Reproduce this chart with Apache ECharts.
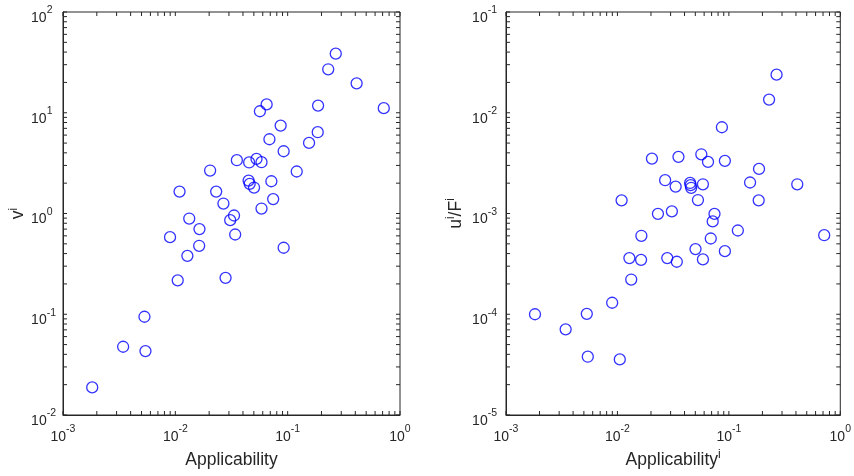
<!DOCTYPE html>
<html>
<head>
<meta charset="utf-8">
<script src="https://cdn.jsdelivr.net/npm/echarts@6/dist/echarts.min.js"></script>
<style>
  html, body { margin: 0; padding: 0; background: #fff; }
  #chart { width: 854px; height: 476px; }
</style>
</head>
<body>
<div id="chart"></div>
<script>
// applicability of each item (shared by both panels)
var applicability = [0.00182, 0.00343, 0.00531, 0.00542, 0.00897, 0.0105, 0.0109, 0.0128, 0.0133, 0.0163,
  0.0164, 0.0204, 0.0231, 0.0268, 0.028, 0.0308, 0.0333, 0.0341, 0.0353, 0.0449,
  0.0454, 0.0459, 0.0502, 0.0528, 0.0566, 0.0585, 0.0585, 0.065, 0.0688, 0.0716,
  0.0743, 0.0866, 0.0921, 0.0921, 0.1204, 0.155, 0.1852, 0.1865, 0.2296, 0.268,
  0.411, 0.717];

// left panel: v^i
var vi = [0.0188, 0.0476, 0.0944, 0.0431, 0.582, 0.217, 1.65, 0.38, 0.891, 0.478,
  0.70, 2.67, 1.65, 1.256, 0.230, 0.859, 0.955, 0.619, 3.38, 2.12,
  3.21, 1.97, 1.81, 3.48, 10.35, 3.23, 1.12, 12.1, 5.46, 2.09,
  1.39, 7.46, 4.15, 0.457, 2.61, 5.02, 6.41, 11.78, 27.0, 38.6,
  19.6, 11.1];

// right panel: u^i / F^i
var uiOverFi = [1.0e-4, 7.08e-5, 1.01e-4, 3.79e-5, 1.30e-4, 3.56e-5, 1.35e-3, 3.61e-4, 2.21e-4, 3.47e-4,
  6.01e-4, 3.51e-3, 9.93e-4, 2.14e-3, 3.61e-4, 1.05e-3, 1.85e-3, 3.32e-4, 3.65e-3, 2.01e-3,
  1.91e-3, 1.80e-3, 4.43e-4, 1.36e-3, 3.87e-3, 1.95e-3, 3.50e-4, 3.25e-3, 5.65e-4, 8.34e-4,
  9.93e-4, 7.18e-3, 3.33e-3, 4.23e-4, 6.78e-4, 2.03e-3, 1.35e-3, 2.77e-3, 1.35e-2, 2.39e-2,
  1.95e-3, 6.09e-4];

// axis limits (decade exponents)
var xRange = [-3, 0];
var leftYRange = [-2, 2];
var rightYRange = [-5, -1];

var AX = "#262626";
var FONT = "Liberation Sans, Arial, Helvetica, sans-serif";

function pairs(xs, ys) {
  var out = [];
  for (var i = 0; i < xs.length; i++) out.push([xs[i], ys[i]]);
  return out;
}

// 1..9 x 10^k ticks, matlab style
function decadeTicks(lo, hi) {
  var out = [];
  for (var k = lo; k < hi; k++) {
    for (var m = 1; m < 10; m++) out.push(m * Math.pow(10, k));
  }
  out.push(Math.pow(10, hi));
  return out;
}

function powLabel(v) {
  var e = Math.round(Math.log10(v));
  return "{b|10}{s|" + e + "}";
}

// y labels: positive exponents get extra room so the "10" parts line up
function powLabelY(v) {
  var e = Math.round(Math.log10(v));
  return "{b|10}" + (e < 0 ? "{s|" + e + "}" : "{p|" + e + "}");
}

var bStyle = { fontSize: 14, fontFamily: FONT, color: AX, lineHeight: 20, verticalAlign: "bottom" };
var sStyle = { fontSize: 10.5, fontFamily: FONT, color: AX, lineHeight: 10, verticalAlign: "top" };
var labelRich = {
  b: bStyle,
  s: sStyle,
  p: Object.assign({}, sStyle, { padding: [0, 3.5, 0, 0] })
};
var nameRich = {
  b: { fontSize: 17.5, fontFamily: FONT, color: AX, lineHeight: 20, verticalAlign: "bottom" },
  s: { fontSize: 12, fontFamily: FONT, color: AX, lineHeight: 12, verticalAlign: "top" }
};

function xAxisFor(idx, name) {
  return {
    type: "log", gridIndex: idx, logBase: 10,
    min: Math.pow(10, xRange[0]), max: Math.pow(10, xRange[1]),
    name: name, nameLocation: "middle", nameGap: 34,
    nameTextStyle: { rich: nameRich },
    axisLine: { show: true, lineStyle: { color: AX, width: 1 } },
    axisTick: { show: false },
    splitLine: { show: false },
    axisLabel: { margin: 9, fontSize: 14, fontFamily: FONT, color: AX, formatter: powLabel, rich: labelRich }
  };
}

function yAxisFor(idx, range, name, gap, margin) {
  return {
    type: "log", gridIndex: idx, logBase: 10,
    min: Math.pow(10, range[0]), max: Math.pow(10, range[1]),
    name: name, nameLocation: "middle", nameGap: gap, nameRotate: 90,
    nameTextStyle: { rich: nameRich },
    axisLine: { show: true, lineStyle: { color: AX, width: 1 } },
    axisTick: { show: false },
    splitLine: { show: false },
    axisLabel: { margin: margin, padding: [6, 0, 0, 0], fontSize: 14, fontFamily: FONT, color: AX, formatter: powLabelY, rich: labelRich }
  };
}

// tick marks on all four sides of a box
function tickSeries(idx, yRange) {
  var xt = decadeTicks(xRange[0], xRange[1]);
  var yt = decadeTicks(yRange[0], yRange[1]);
  var x0 = Math.pow(10, xRange[0]), x1 = Math.pow(10, xRange[1]);
  var y0 = Math.pow(10, yRange[0]), y1 = Math.pow(10, yRange[1]);
  var TL = 4;
  return {
    type: "custom", xAxisIndex: idx, yAxisIndex: idx, silent: true, clip: false, z: 1,
    data: [[x0, y0]],
    renderItem: function (params, api) {
      var kids = [];
      var st = { stroke: AX, lineWidth: 1 };
      xt.forEach(function (v) {
        var b = api.coord([v, y0]), t = api.coord([v, y1]);
        kids.push({ type: "line", shape: { x1: b[0], y1: b[1], x2: b[0], y2: b[1] - TL }, style: st });
        kids.push({ type: "line", shape: { x1: t[0], y1: t[1], x2: t[0], y2: t[1] + TL }, style: st });
      });
      yt.forEach(function (v) {
        var l = api.coord([x0, v]), r = api.coord([x1, v]);
        kids.push({ type: "line", shape: { x1: l[0], y1: l[1], x2: l[0] + TL, y2: l[1] }, style: st });
        kids.push({ type: "line", shape: { x1: r[0], y1: r[1], x2: r[0] - TL, y2: r[1] }, style: st });
      });
      return { type: "group", children: kids };
    }
  };
}

function scatterSeries(idx, ys) {
  return {
    type: "scatter", xAxisIndex: idx, yAxisIndex: idx, z: 3,
    data: pairs(applicability, ys),
    symbol: "circle", symbolSize: 11,
    itemStyle: { color: "rgba(0,0,0,0)", borderColor: "#0000ff", borderWidth: 1.3 }
  };
}

var chart = echarts.init(document.getElementById("chart"), null, { renderer: "canvas" });
chart.setOption({
  backgroundColor: "#ffffff",
  animation: false,
  grid: [
    { left: 63, top: 12, width: 337, height: 403, show: true, borderColor: AX, borderWidth: 1, backgroundColor: "#fff" },
    { left: 506, top: 12, width: 337, height: 403, show: true, borderColor: AX, borderWidth: 1, backgroundColor: "#fff" }
  ],
  xAxis: [
    xAxisFor(0, "{b|Applicability}"),
    xAxisFor(1, "{b|Applicability}{s|i}")
  ],
  yAxis: [
    yAxisFor(0, leftYRange, "{b|v}{s|i}", 31, 7),
    yAxisFor(1, rightYRange, "{b|u}{s|i}{b|/F}{s|i}", 41, 9)
  ],
  series: [
    tickSeries(0, leftYRange),
    tickSeries(1, rightYRange),
    scatterSeries(0, vi),
    scatterSeries(1, uiOverFi)
  ]
});
</script>
</body>
</html>
